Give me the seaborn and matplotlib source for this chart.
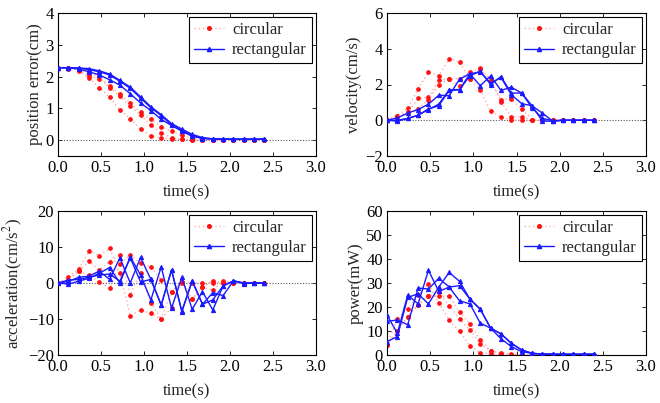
import numpy as np
import pandas as pd
import matplotlib
matplotlib.use("Agg")
import matplotlib.pyplot as plt
import seaborn as sns
from matplotlib.lines import Line2D

sns.set_style("ticks")
plt.rcParams['font.family'] = ['Liberation Serif', 'DejaVu Serif']
plt.rcParams['mathtext.fontset'] = 'stix'

# time samples (s)
time = [round(0.12 * i, 2) for i in range(21)]

# ---------- position error (cm) ----------
pos_circ = [
    [2.28, 2.25, 2.18, 1.95, 1.65, 1.35, 0.95, 0.67, 0.35, 0.13, 0.07, 0.03, 0.02, 0.01, 0.01, 0.0, 0.0, 0.0, 0.0, 0.0, 0.0],
    [2.28, 2.26, 2.22, 2.02, 1.93, 1.70, 1.45, 1.17, 0.87, 0.65, 0.42, 0.28, 0.15, 0.05, 0.02, 0.01, 0.0, 0.0, 0.0, 0.0, 0.0],
    [2.28, 2.27, 2.24, 2.08, 2.02, 1.65, 1.38, 1.06, 0.80, 0.46, 0.23, 0.07, 0.02, 0.01, 0.01, 0.0, 0.0, 0.0, 0.0, 0.0, 0.0],
]
pos_rect = [
    [2.28, 2.28, 2.27, 2.25, 2.18, 2.08, 1.88, 1.67, 1.36, 1.05, 0.80, 0.52, 0.35, 0.18, 0.08, 0.04, 0.03, 0.03, 0.03, 0.03, 0.03],
    [2.28, 2.28, 2.26, 2.22, 2.15, 2.05, 1.85, 1.63, 1.32, 1.02, 0.77, 0.48, 0.31, 0.14, 0.06, 0.04, 0.03, 0.03, 0.03, 0.03, 0.03],
    [2.28, 2.27, 2.24, 2.15, 2.05, 1.90, 1.73, 1.46, 1.17, 0.93, 0.65, 0.46, 0.28, 0.12, 0.05, 0.03, 0.03, 0.03, 0.03, 0.03, 0.03],
]

# ---------- velocity (cm/s) ----------
vel_circ = [
    [0.0, 0.26, 0.67, 1.76, 2.69, 2.50, 3.44, 3.26, 2.30, 1.70, 0.50, 0.19, 0.02, 0.0, 0.0, 0.0, 0.0, 0.0, 0.0, 0.0, 0.0],
    [0.0, 0.26, 0.44, 1.22, 1.28, 2.26, 2.30, 2.33, 2.69, 2.90, 2.26, 1.04, 0.19, 0.19, 0.02, 0.0, 0.0, 0.0, 0.0, 0.0, 0.0],
    [0.0, 0.20, 0.44, 0.65, 1.15, 2.00, 2.30, 1.89, 2.30, 2.85, 2.20, 1.15, 1.20, 0.63, 0.04, 0.0, 0.0, 0.0, 0.0, 0.0, 0.0],
]
vel_rect = [
    [0.0, 0.13, 0.40, 0.60, 0.90, 1.40, 1.37, 2.30, 2.60, 1.93, 2.48, 1.67, 1.85, 1.52, 0.81, 0.40, -0.05, 0.0, 0.0, 0.0, 0.0],
    [0.0, 0.0, 0.10, 0.28, 0.63, 0.81, 1.67, 1.70, 2.50, 2.74, 2.00, 2.44, 1.52, 1.52, 0.70, 0.10, -0.02, 0.0, 0.0, 0.0, 0.0],
    [0.0, -0.05, 0.10, 0.28, 0.60, 0.90, 1.70, 1.72, 2.60, 2.70, 2.07, 2.40, 1.43, 0.93, 0.81, -0.05, -0.05, 0.0, 0.0, 0.0, 0.0],
]

# ---------- acceleration (cm/s^2) ----------
acc_circ = [
    [0.0, 1.8, 3.8, 9.0, 7.6, 9.6, 2.7, -9.1, -7.5, -8.4, -10.0, -2.4, 0.4, 0.0, 0.0, 0.0, 0.0, 0.0, 0.0, 0.0, 0.0],
    [0.0, 0.8, 3.3, 6.0, 3.6, 5.9, 7.8, -3.3, 2.9, -5.6, -10.0, -7.0, 0.4, -4.5, -1.2, 0.6, 0.0, 0.0, 0.0, 0.0, 0.0],
    [0.0, 0.8, 3.3, 2.1, 0.3, -1.5, 5.3, 7.8, 5.5, 4.5, 0.8, -2.4, 0.0, -4.5, -1.2, -2.0, 0.6, 0.0, 0.0, 0.0, 0.0],
]
acc_rect = [
    [0.0, 0.4, 1.6, 1.9, 3.3, 1.0, 7.0, 0.0, 7.1, 1.0, -6.1, 3.6, -8.0, 0.6, -5.9, -2.7, -3.5, 0.6, 0.0, 0.0, 0.0],
    [0.0, -0.3, 0.5, 1.3, 2.7, 4.3, 0.0, 7.3, 2.2, -4.7, 4.5, -7.0, 1.6, -7.3, -2.4, -7.5, -0.8, 0.6, 0.0, 0.0, 0.0],
    [0.0, 0.8, 1.0, 1.6, 2.2, 2.5, 0.5, 7.0, 0.3, 1.0, -6.1, 3.6, -7.8, 0.6, -5.9, -4.7, -0.8, 0.6, -0.2, 0.0, 0.0],
]

# ---------- power (mW) ----------
pow_circ = [
    [4.2, 15.0, 19.2, 24.8, 29.5, 21.6, 14.6, 9.8, 3.9, 1.0, 0.4, 0.2, 0.0, 0.0, 0.0, 0.0, 0.0, 0.0, 0.0, 0.0, 0.0],
    [4.2, 10.0, 16.0, 21.0, 24.7, 26.2, 20.5, 15.0, 10.5, 4.6, 1.8, 0.4, 0.2, 0.0, 0.0, 0.0, 0.0, 0.0, 0.0, 0.0, 0.0],
    [4.2, 10.0, 16.0, 21.0, 24.7, 24.4, 24.5, 17.9, 13.0, 6.3, 1.8, 1.0, 0.4, 0.2, 0.0, 0.0, 0.0, 0.0, 0.0, 0.0, 0.0],
]
pow_rect = [
    [16.7, 9.0, 25.0, 21.3, 35.3, 26.5, 28.3, 28.9, 23.3, 19.1, 11.2, 8.8, 4.9, 2.1, 0.7, 0.4, 0.3, 0.3, 0.3, 0.3, 0.3],
    [14.0, 14.6, 12.6, 27.9, 27.5, 32.0, 28.3, 22.6, 21.3, 13.3, 11.2, 6.8, 3.5, 1.4, 0.7, 0.4, 0.3, 0.3, 0.3, 0.3, 0.3],
    [5.6, 7.7, 24.0, 25.5, 21.3, 28.3, 34.4, 30.7, 23.3, 19.1, 11.2, 8.8, 4.9, 2.1, 0.7, 0.4, 0.3, 0.3, 0.3, 0.3, 0.3],
]

xticks = [0.0, 0.5, 1.0, 1.5, 2.0, 2.5, 3.0]
xticklabels = ["0.0", "0.5", "1.0", "1.5", "2.0", "2.5", "3.0"]

panels = [
    dict(circ=pos_circ, rect=pos_rect, ylabel="position error(cm)", ylim=(-0.5, 4), yticks=[0, 1, 2, 3, 4]),
    dict(circ=vel_circ, rect=vel_rect, ylabel="velocity(cm/s)", ylim=(-2, 6), yticks=[-2, 0, 2, 4, 6]),
    dict(circ=acc_circ, rect=acc_rect, ylabel=r"acceleration(cm/s$^2$)", ylim=(-20, 20), yticks=[-20, -10, 0, 10, 20]),
    dict(circ=pow_circ, rect=pow_rect, ylabel="power(mW)", ylim=(0, 60), yticks=[0, 10, 20, 30, 40, 50, 60]),
]

W, H = 660, 403
fig = plt.figure(figsize=(W / 100, H / 100), dpi=100)
boxes = [(58, 13, 316, 156), (387, 13, 646, 156), (58, 211, 316, 355), (387, 211, 646, 355)]

red_line = "#ffaaaa"
red_dot = "#ff1010"
blue = "#1a1aff"
ms_dot, ms_tri = 2.6, 3.0

for p, (l, t, r, b) in zip(panels, boxes):
    ax = fig.add_axes([l / W, 1 - b / H, (r - l) / W, (b - t) / H])
    ax.axhline(0, color="#555555", linestyle=(0, (1, 1.5)), linewidth=0.8, zorder=1)
    for ys in p["circ"]:
        df = pd.DataFrame({"time": time, "value": ys})
        sns.lineplot(data=df, x="time", y="value", ax=ax, color=red_line, linestyle=(0, (1, 2)),
                     linewidth=1.0, marker="o", markersize=ms_dot, markerfacecolor=red_dot,
                     markeredgecolor=red_dot, estimator=None, zorder=2)
    for ys in p["rect"]:
        df = pd.DataFrame({"time": time, "value": ys})
        sns.lineplot(data=df, x="time", y="value", ax=ax, color=blue, linestyle="-",
                     linewidth=1.0, marker="^", markersize=ms_tri, markerfacecolor=blue,
                     markeredgecolor=blue, estimator=None, zorder=3)
    ax.set_xlim(0, 3)
    ax.set_ylim(*p["ylim"])
    ax.set_xticks(xticks)
    ax.set_xticklabels(xticklabels)
    ax.set_yticks(p["yticks"])
    ax.set_xlabel("time(s)", fontsize=12, labelpad=6)
    ax.set_ylabel(p["ylabel"], fontsize=12, labelpad=2)
    ax.tick_params(direction="in", top=True, right=True, length=3, width=0.6,
                   labelsize=12, colors="black", pad=3)
    for s in ax.spines.values():
        s.set_visible(True)
        s.set_color("black")
        s.set_linewidth(0.8)
    handles = [
        Line2D([], [], color=red_line, linestyle=(0, (1, 2)), linewidth=1.0, marker="o",
               markersize=ms_dot, markerfacecolor=red_dot, markeredgecolor=red_dot),
        Line2D([], [], color=blue, linestyle="-", linewidth=1.0, marker="^",
               markersize=ms_tri, markerfacecolor=blue, markeredgecolor=blue),
    ]
    leg = ax.legend(handles, ["circular", "rectangular"], loc="upper right", fontsize=12,
                    frameon=True, fancybox=False, edgecolor="black", framealpha=1,
                    handlelength=1.8, handletextpad=0.5, labelspacing=0.25,
                    borderpad=0.3, borderaxespad=0.25)
    leg.get_frame().set_linewidth(0.8)

fig.savefig("out.png", dpi=100)
